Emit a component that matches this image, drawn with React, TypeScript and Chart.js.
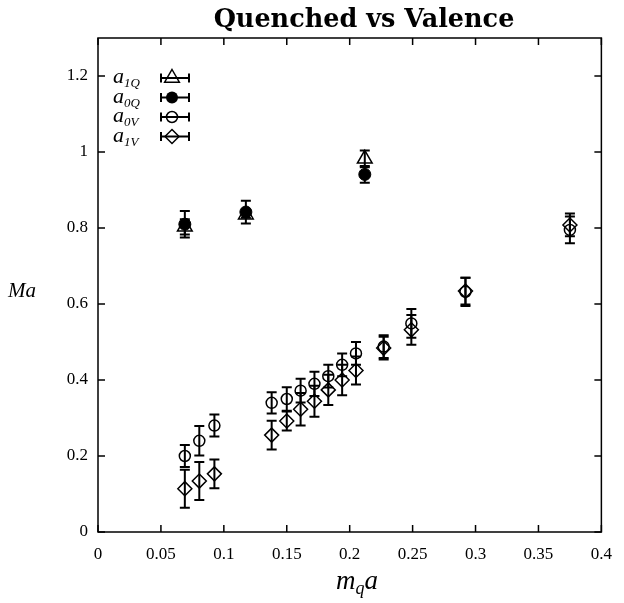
import React, { useEffect, useRef } from "react";
import { Chart, registerables } from "chart.js";

Chart.register(...registerables);

// ---- Data ----
const mqQuenched = [0.069, 0.1175, 0.212];
const a1Q = [0.803, 0.835, 0.982];
const a1QErr = [0.02, 0.008, 0.022];
const a0Q = [0.81, 0.842, 0.941];
const a0QErr = [0.035, 0.03, 0.022];

const mqValence = [0.069, 0.0805, 0.0925, 0.138, 0.15, 0.161, 0.172, 0.183, 0.194, 0.205, 0.227, 0.249, 0.292, 0.375];
const a0V = [0.2, 0.24, 0.28, 0.34, 0.35, 0.372, 0.39, 0.41, 0.44, 0.47, 0.488, 0.549, 0.632, 0.795];
const a0VErr = [0.029, 0.039, 0.029, 0.028, 0.031, 0.031, 0.032, 0.03, 0.03, 0.03, 0.03, 0.038, 0.037, 0.035];
const a1V = [0.114, 0.134, 0.153, 0.255, 0.292, 0.323, 0.344, 0.374, 0.4, 0.425, 0.484, 0.532, 0.634, 0.808];
const a1VErr = [0.05, 0.05, 0.038, 0.038, 0.025, 0.043, 0.041, 0.04, 0.04, 0.037, 0.03, 0.039, 0.035, 0.03];

const xTicks = [0, 0.05, 0.1, 0.15, 0.2, 0.25, 0.3, 0.35, 0.4];
const yTicks = [0, 0.2, 0.4, 0.6, 0.8, 1, 1.2];

const titleText = "Quenched vs Valence";
const legendItems = [
  { base: "a", sub: "1Q", shape: "triangle" },
  { base: "a", sub: "0Q", shape: "filled" },
  { base: "a", sub: "0V", shape: "circle" },
  { base: "a", sub: "1V", shape: "diamond" },
];

const SERIF = '"Liberation Serif", "Times New Roman", serif';

function toPoints(xs: number[], ys: number[]) {
  return xs.map((x, i) => ({ x, y: ys[i] }));
}

function drawShape(ctx: CanvasRenderingContext2D, shape: string, x: number, y: number) {
  ctx.save();
  ctx.strokeStyle = "#000";
  ctx.fillStyle = "#000";
  ctx.lineWidth = 1.5;
  ctx.beginPath();
  if (shape === "triangle") {
    const r = 8.5;
    ctx.moveTo(x, y - r);
    ctx.lineTo(x + r * 0.866, y + r * 0.5);
    ctx.lineTo(x - r * 0.866, y + r * 0.5);
    ctx.closePath();
    ctx.stroke();
  } else if (shape === "filled") {
    ctx.arc(x, y, 6, 0, Math.PI * 2);
    ctx.fill();
  } else if (shape === "circle") {
    ctx.arc(x, y, 5.5, 0, Math.PI * 2);
    ctx.stroke();
  } else {
    ctx.moveTo(x, y - 7);
    ctx.lineTo(x + 7, y);
    ctx.lineTo(x, y + 7);
    ctx.lineTo(x - 7, y);
    ctx.closePath();
    ctx.stroke();
  }
  ctx.restore();
}

const errorBarPlugin = {
  id: "errorBars",
  beforeDatasetDraw(chart: any, args: any) {
    const ds = chart.data.datasets[args.index];
    const errs: number[] | undefined = ds.errors;
    if (!errs) return;
    const ctx = chart.ctx;
    const xs = chart.scales.x;
    const ys = chart.scales.y;
    ctx.save();
    ctx.strokeStyle = "#000";
    ctx.lineWidth = 2;
    ds.data.forEach((p: any, i: number) => {
      const px = xs.getPixelForValue(p.x);
      const yt = ys.getPixelForValue(p.y + errs[i]);
      const yb = ys.getPixelForValue(p.y - errs[i]);
      ctx.beginPath();
      ctx.moveTo(px, yt);
      ctx.lineTo(px, yb);
      ctx.moveTo(px - 5, yt);
      ctx.lineTo(px + 5, yt);
      ctx.moveTo(px - 5, yb);
      ctx.lineTo(px + 5, yb);
      ctx.stroke();
    });
    ctx.restore();
  },
};

function drawSubText(ctx: CanvasRenderingContext2D, parts: { t: string; size: number; dy: number }[], x: number, y: number, align: "left" | "center") {
  let total = 0;
  parts.forEach((p) => {
    ctx.font = `italic ${p.size}px ${SERIF}`;
    total += ctx.measureText(p.t).width;
  });
  let cx = align === "center" ? x - total / 2 : x;
  parts.forEach((p) => {
    ctx.font = `italic ${p.size}px ${SERIF}`;
    ctx.fillText(p.t, cx, y + p.dy);
    cx += ctx.measureText(p.t).width;
  });
}

const framePlugin = {
  id: "frame",
  afterDraw(chart: any) {
    const ctx: CanvasRenderingContext2D = chart.ctx;
    const { left, right, top, bottom } = chart.chartArea;
    const xs = chart.scales.x;
    const ys = chart.scales.y;
    ctx.save();
    ctx.strokeStyle = "#000";
    ctx.lineWidth = 1.5;
    ctx.strokeRect(left, top, right - left, bottom - top);
    ctx.beginPath();
    const tl = 7;
    xTicks.forEach((v) => {
      const px = xs.getPixelForValue(v);
      ctx.moveTo(px, bottom);
      ctx.lineTo(px, bottom - tl);
      ctx.moveTo(px, top);
      ctx.lineTo(px, top + tl);
    });
    yTicks.forEach((v) => {
      const py = ys.getPixelForValue(v);
      ctx.moveTo(left, py);
      ctx.lineTo(left + tl, py);
      ctx.moveTo(right, py);
      ctx.lineTo(right - tl, py);
    });
    ctx.stroke();

    // title
    ctx.fillStyle = "#000";
    ctx.textAlign = "left";
    ctx.textBaseline = "alphabetic";
    ctx.font = `bold 25.5px "DejaVu Serif", serif`;
    const tw = ctx.measureText(titleText).width;
    ctx.fillText(titleText, 364 - tw / 2, 27);

    // y label
    drawSubText(ctx, [{ t: "M", size: 21, dy: 0 }, { t: "a", size: 21, dy: 0 }], 8, 297, "left");
    // x label
    drawSubText(
      ctx,
      [
        { t: "m", size: 27, dy: 0 },
        { t: "q", size: 18, dy: 5 },
        { t: "a", size: 27, dy: 0 },
      ],
      357,
      589,
      "center"
    );

    // legend
    legendItems.forEach((it, i) => {
      const y = 78 + i * 19.5;
      drawSubText(
        ctx,
        [
          { t: it.base, size: 22, dy: 5 },
          { t: it.sub, size: 13, dy: 9 },
        ],
        113,
        y,
        "left"
      );
      ctx.strokeStyle = "#000";
      ctx.lineWidth = 2;
      ctx.beginPath();
      ctx.moveTo(161, y);
      ctx.lineTo(189, y);
      ctx.moveTo(161, y - 4.5);
      ctx.lineTo(161, y + 4.5);
      ctx.moveTo(189, y - 4.5);
      ctx.lineTo(189, y + 4.5);
      ctx.stroke();
      drawShape(ctx, it.shape, 172, y);
    });
    ctx.restore();
  },
};

export default function App() {
  const ref = useRef<HTMLCanvasElement | null>(null);
  useEffect(() => {
    document.body.style.margin = "0";
    const canvas = ref.current!;
    const tickFont = { family: SERIF, size: 17 };
    const chart = new Chart(canvas, {
      type: "scatter",
      data: {
        datasets: [
          {
            label: "a1Q",
            data: toPoints(mqQuenched, a1Q),
            errors: a1QErr,
            pointStyle: "triangle",
            pointRadius: 8.5,
            borderColor: "#000",
            backgroundColor: "rgba(0,0,0,0)",
            borderWidth: 1.5,
          } as any,
          {
            label: "a0Q",
            data: toPoints(mqQuenched, a0Q),
            errors: a0QErr,
            pointStyle: "circle",
            pointRadius: 6,
            borderColor: "#000",
            backgroundColor: "#000",
            borderWidth: 1,
          } as any,
          {
            label: "a0V",
            data: toPoints(mqValence, a0V),
            errors: a0VErr,
            pointStyle: "circle",
            pointRadius: 5.5,
            borderColor: "#000",
            backgroundColor: "rgba(0,0,0,0)",
            borderWidth: 1.5,
          } as any,
          {
            label: "a1V",
            data: toPoints(mqValence, a1V),
            errors: a1VErr,
            pointStyle: "rectRot",
            pointRadius: 7,
            borderColor: "#000",
            backgroundColor: "rgba(0,0,0,0)",
            borderWidth: 1.5,
          } as any,
        ],
      },
      options: {
        responsive: false,
        animation: false,
        devicePixelRatio: 1,
        layout: { padding: { top: 38, right: 11, left: 0, bottom: 0 } },
        plugins: { legend: { display: false }, tooltip: { enabled: false }, title: { display: false } },
        scales: {
          x: {
            type: "linear",
            min: 0,
            max: 0.4,
            afterBuildTicks: (s: any) => {
              s.ticks = xTicks.map((v) => ({ value: v }));
            },
            ticks: {
              font: tickFont,
              color: "#000",
              padding: 12,
              maxRotation: 0,
              callback: (v: any) => String(Math.round(Number(v) * 100) / 100),
            },
            grid: { display: false, drawTicks: false },
            border: { display: false },
            afterFit: (s: any) => {
              s.height = 71;
            },
          },
          y: {
            type: "linear",
            min: 0,
            max: 1.3,
            afterBuildTicks: (s: any) => {
              s.ticks = yTicks.map((v) => ({ value: v }));
            },
            ticks: {
              font: tickFont,
              color: "#000",
              padding: 10,
              callback: (v: any) => String(Math.round(Number(v) * 100) / 100),
            },
            grid: { display: false, drawTicks: false },
            border: { display: false },
            afterFit: (s: any) => {
              s.width = 98;
            },
          },
        },
      },
      plugins: [errorBarPlugin, framePlugin],
    } as any);
    return () => chart.destroy();
  }, []);
  return (
    <div style={{ width: 624, height: 603, background: "#fff" }}>
      <canvas ref={ref} width={624} height={603} style={{ display: "block" }} />
    </div>
  );
}
